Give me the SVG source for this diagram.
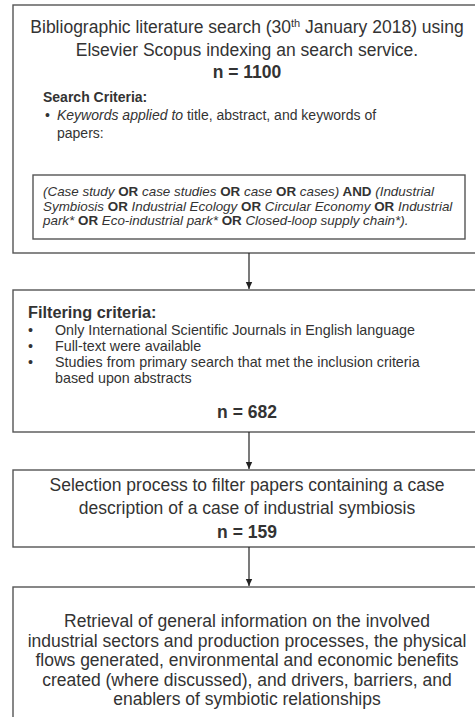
<svg xmlns="http://www.w3.org/2000/svg" width="475" height="717" viewBox="0 0 475 717">
<style>
text{font-family:"Liberation Sans",Arial,sans-serif;fill:#333333}
.box{fill:#ffffff;stroke:#555555;stroke-width:1.4}
.m{font-size:17.5px}
.c{text-anchor:middle}
.b{font-weight:bold}
.s{font-size:14px}
.q{font-size:13.4px;font-style:italic}
.f{font-size:14.3px}
.conn{stroke:#222222;stroke-width:1.2;fill:none}
</style>
<defs>
<marker id="ah" markerWidth="8" markerHeight="8" refX="7" refY="4" orient="auto" markerUnits="userSpaceOnUse">
<path d="M0,0.8 L7,4 L0,7.2 Z" fill="#222222"/>
</marker>
</defs>
<rect width="475" height="717" fill="#ffffff"/>
<g id="n1">
<rect class="box" x="13" y="5" width="480" height="248"/>
<text class="m c" x="247" y="33">Bibliographic literature search (30<tspan dy="-6" font-size="11">th</tspan><tspan dy="6"> January 2018) using</tspan></text>
<text class="m c" x="247" y="56">Elsevier Scopus indexing an search service.</text>
<text class="m c b" x="247" y="78">n = 1100</text>
<text class="s b" x="43" y="102">Search Criteria:</text>
<text class="s" x="45" y="120">•</text>
<text class="s" x="57" y="120"><tspan font-style="italic">Keywords applied to</tspan> title, abstract, and keywords of</text>
<text class="s" x="57" y="138">papers:</text>
<rect class="box" x="33" y="175" width="432" height="64"/>
<text class="q" x="43" y="196">(Case study<tspan font-weight="bold" font-style="normal"> OR </tspan>case studies<tspan font-weight="bold" font-style="normal"> OR </tspan>case<tspan font-weight="bold" font-style="normal"> OR </tspan>cases)<tspan font-weight="bold" font-style="normal"> AND </tspan>(Industrial</text>
<text class="q" x="43" y="211">Symbiosis<tspan font-weight="bold" font-style="normal"> OR </tspan>Industrial Ecology<tspan font-weight="bold" font-style="normal"> OR </tspan>Circular Economy<tspan font-weight="bold" font-style="normal"> OR </tspan>Industrial</text>
<text class="q" x="43" y="225">park*<tspan font-weight="bold" font-style="normal"> OR </tspan>Eco-industrial park*<tspan font-weight="bold" font-style="normal"> OR </tspan>Closed-loop supply chain*).</text>
</g>
<g id="n2">
<rect class="box" x="13" y="290" width="480" height="142"/>
<text class="b" x="28" y="318" font-size="16.3">Filtering criteria:</text>
<text class="f" x="28" y="335">•</text>
<text class="f" x="55" y="335">Only International Scientific Journals in English language</text>
<text class="f" x="28" y="351">•</text>
<text class="f" x="55" y="351">Full-text were available</text>
<text class="f" x="28" y="367">•</text>
<text class="f" x="55" y="367">Studies from primary search that met the inclusion criteria</text>
<text class="f" x="55" y="383">based upon abstracts</text>
<text class="m c b" x="247" y="418">n = 682</text>
</g>
<g id="n3">
<rect class="box" x="13" y="470" width="480" height="77"/>
<text class="m c" x="247" y="491">Selection process to filter papers containing a case</text>
<text class="m c" x="247" y="514">description of a case of industrial symbiosis</text>
<text class="m c b" x="247" y="538">n = 159</text>
</g>
<g id="n4">
<rect class="box" x="13" y="587" width="480" height="150"/>
<text class="m c" x="247" y="627">Retrieval of general information on the involved</text>
<text class="m c" x="247" y="646.5">industrial sectors and production processes, the physical</text>
<text class="m c" x="247" y="666">flows generated, environmental and economic benefits</text>
<text class="m c" x="247" y="685.5">created (where discussed), and drivers, barriers, and</text>
<text class="m c" x="247" y="705">enablers of symbiotic relationships</text>
</g>
<g id="connectors">
<line class="conn" x1="249" y1="253" x2="249" y2="289" marker-end="url(#ah)"/>
<line class="conn" x1="249" y1="432" x2="249" y2="469" marker-end="url(#ah)"/>
<line class="conn" x1="249" y1="547" x2="249" y2="586" marker-end="url(#ah)"/>
</g>
</svg>
